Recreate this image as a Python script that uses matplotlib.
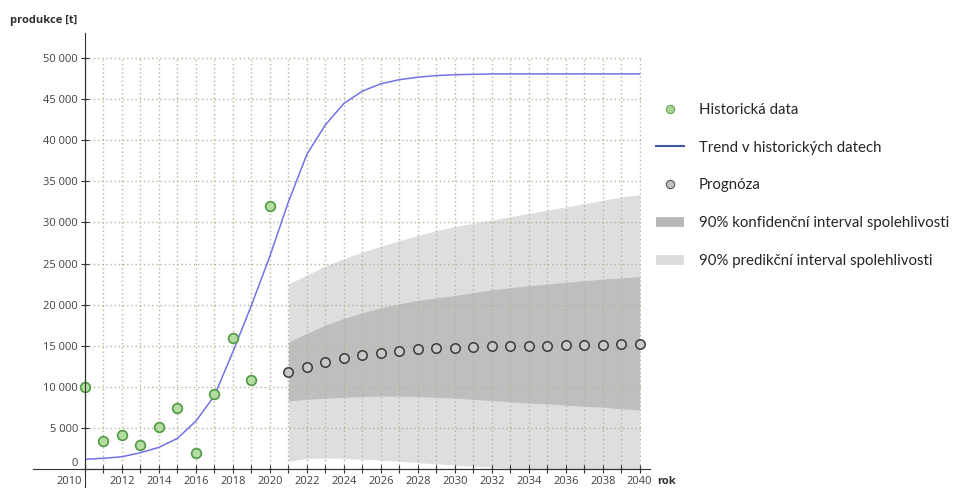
import matplotlib
matplotlib.use("Agg")
import matplotlib.pyplot as plt
from matplotlib.lines import Line2D
from matplotlib.ticker import FuncFormatter, FixedLocator, MultipleLocator
import matplotlib.transforms as mtransforms

# historical production
hist_years = list(range(2010, 2021))
hist_values = [10000, 3400, 4100, 2900, 5050, 7400, 1900, 9050, 15950, 10800, 32050]

# trend fitted on history
trend_years = list(range(2010, 2041))
trend_values = [1150, 1270, 1460, 1950, 2600, 3700, 5800, 8900, 14250, 19900, 25900,
                32500, 38300, 41900, 44500, 46000, 46900, 47400, 47700, 47900, 48000,
                48050, 48100, 48100, 48100, 48100, 48100, 48100, 48100, 48100, 48100]

# forecast and intervals
fc_years = list(range(2021, 2041))
fc_values = [11750, 12450, 13050, 13450, 13900, 14150, 14350, 14550, 14700, 14700,
             14850, 14900, 15000, 15000, 15000, 15100, 15100, 15100, 15200, 15250]
conf_low = [8250, 8450, 8600, 8700, 8800, 8850, 8850, 8800, 8700, 8600,
            8450, 8300, 8150, 8000, 7900, 7750, 7600, 7500, 7300, 7150]
conf_high = [15400, 16500, 17500, 18300, 19000, 19600, 20100, 20500, 20800, 21100,
             21450, 21800, 22050, 22300, 22500, 22700, 22900, 23100, 23250, 23400]
pred_low = [900, 1250, 1300, 1250, 1150, 1050, 900, 750, 600, 450,
            300, 200, 50, -100, -250, -400, -550, -700, -850, -1000]
pred_high = [22500, 23600, 24700, 25600, 26400, 27100, 27800, 28400, 29000, 29500,
             29900, 30300, 30700, 31100, 31500, 31900, 32300, 32700, 33100, 33400]

legend_labels = ["Historická data", "Trend v historických datech", "Prognóza",
                 "90% konfidenční interval spolehlivosti",
                 "90% predikční interval spolehlivosti"]

tick_font = "Open Sans"
text_col = "#404040"
axis_col = "#333333"

fig = plt.figure(figsize=(9.55, 4.88), dpi=100)
# plot area: x 2010..2040, y 0..50000 (grid stops there)
ax = fig.add_axes([85 / 955, 19.3 / 488, 555.6 / 955, 411.6 / 488])
ax.set_xlim(2010, 2040.05)
ax.set_ylim(0, 50150)

# intervals
ax.fill_between(fc_years, pred_low, pred_high, color="#dedede", lw=0, zorder=1)
ax.fill_between(fc_years, conf_low, conf_high, color="#bebebe", lw=0, zorder=1.1)

# grid
ax.xaxis.set_major_locator(FixedLocator(trend_years))
ax.yaxis.set_major_locator(MultipleLocator(5000))
ax.grid(True, color="#b5b596", linestyle=(0, (1, 2)), linewidth=1.0)
ax.set_axisbelow("line")

ax.plot(trend_years, trend_values, color="#7272e6", lw=1.1, zorder=3)
ax.plot(hist_years, hist_values, "o", ms=7, mfc="#b6dba0", mec="#4e9a44", mew=1.2,
        zorder=4, clip_on=False)
ax.plot(fc_years, fc_values, "o", ms=6.8, mfc="#c9c9c9", mec="#3a3a3a", mew=1.1,
        zorder=4, clip_on=False)

# axes look: lines cross at the origin and run past the plot area
for s in ["top", "right"]:
    ax.spines[s].set_visible(False)
ax.spines["left"].set_color(axis_col)
ax.spines["bottom"].set_color(axis_col)
ax.plot([2010, 2010], [-2400, 53100], color=axis_col, lw=0.8, clip_on=False, zorder=5)
ax.plot([2007.2, 2040.55], [0, 0], color=axis_col, lw=0.8, clip_on=False, zorder=5)

ax.tick_params(axis="both", direction="inout", length=6, width=0.8, color=axis_col,
               labelcolor=text_col, labelsize=8, pad=2)
ax.yaxis.set_major_formatter(FuncFormatter(lambda v, p: f"{int(v):,}".replace(",", " ")))
ax.xaxis.set_major_formatter(FuncFormatter(lambda v, p: str(int(v)) if int(v) % 2 == 0 else ""))
for lab in ax.get_xticklabels() + ax.get_yticklabels():
    lab.set_family(tick_font)

fig.canvas.draw()
# nudge the labels at the origin as in the original
for lab in ax.get_xticklabels():
    if lab.get_text() == "2010":
        lab.set_transform(lab.get_transform() + mtransforms.ScaledTranslation(-16 / 100, 0, fig.dpi_scale_trans))
for lab in ax.get_yticklabels():
    if lab.get_text() == "0":
        lab.set_transform(lab.get_transform() + mtransforms.ScaledTranslation(0, 7 / 100, fig.dpi_scale_trans))

fig.text(10 / 955, 1 - 21 / 488, "produkce [t]", fontsize=8, fontweight="bold",
         family=tick_font, color="#303030", va="center", ha="left")
fig.text(657 / 955, 1 - 482 / 488, "rok", fontsize=8, fontweight="bold",
         family=tick_font, color="#303030", va="center", ha="left")

handles = [
    Line2D([], [], ls="none", marker="o", ms=6, mfc="#a8d490", mec="#6aa65a", mew=0.8),
    Line2D([], [], color="#3d5ba9", lw=1.5),
    Line2D([], [], ls="none", marker="o", ms=6, mfc="#c0c0c0", mec="#555555", mew=0.8),
    Line2D([], [], color="#b6b6b6", lw=7, solid_capstyle="butt"),
    Line2D([], [], color="#dcdcdc", lw=7, solid_capstyle="butt"),
]
leg = fig.legend(handles, legend_labels, loc="upper left",
                 bbox_to_anchor=(650 / 955, 1 - 97 / 488), frameon=False,
                 prop={"family": "Lato", "size": 10.8}, labelspacing=1.58,
                 handlelength=1.85, handletextpad=1.0, borderaxespad=0)
for t in leg.get_texts():
    t.set_color("#262626")

fig.savefig("out.png", dpi=100)
